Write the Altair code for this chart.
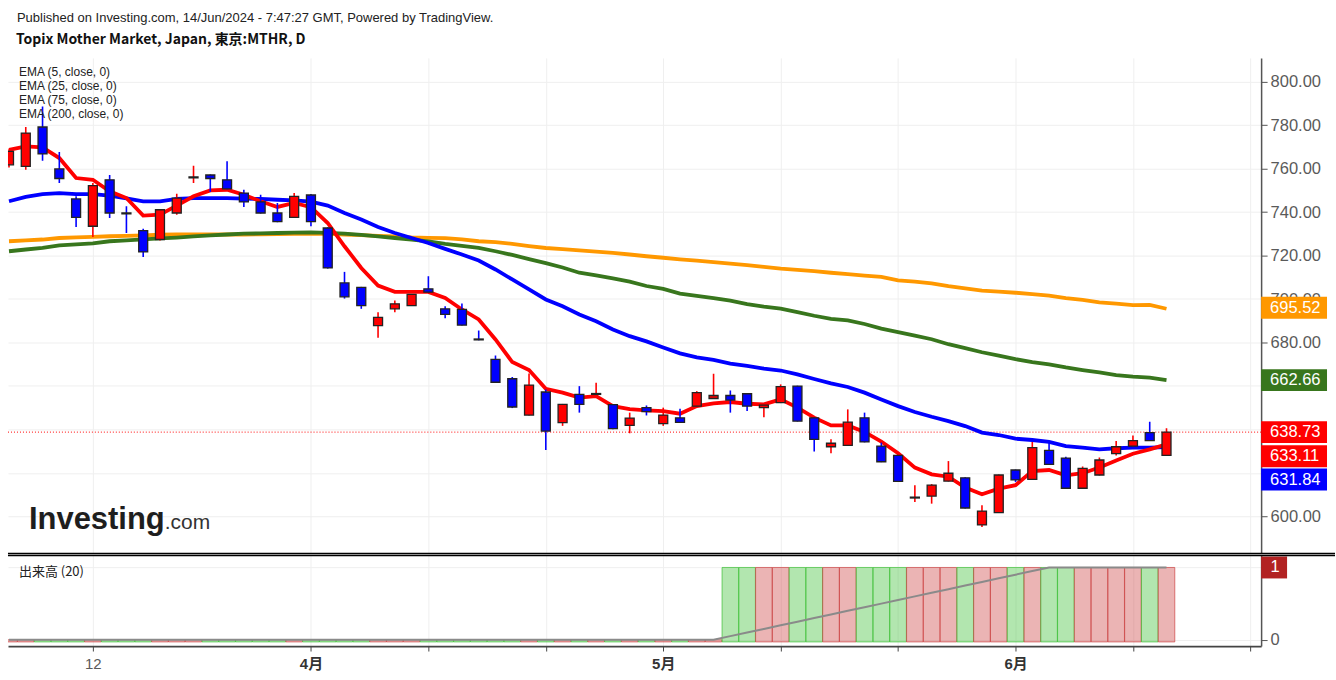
import altair as alt
import pandas as pd

# ---------------- data ----------------
opens = [761.8, 761.1, 779.2, 759.9, 746.1, 733.5, 754.9, 739.6, 731.5, 727.4,
         739.6, 755.8, 757.1, 754.9, 748.8, 744.7, 739.6, 737.6, 747.9, 732.7,
         707.4, 705.4, 687.8, 695.5, 697.0, 704.7, 695.5, 695.2, 681.6, 672.2,
         663.3, 646.6, 657.2, 643.1, 656.1, 656.1, 651.4, 641.8, 650.0, 642.6,
         645.3, 650.7, 654.2, 655.6, 656.4, 650.0, 652.3, 659.9, 645.3, 632.0,
         632.6, 645.3, 632.3, 628.0, 608.4, 609.3, 616.2, 617.7, 596.0, 601.7,
         621.3, 617.0, 630.3, 626.8, 612.9, 619.0, 628.8, 632.3, 638.5, 628.0]
highs = [769.0, 779.2, 788.6, 767.7, 747.3, 753.4, 757.1, 742.7, 732.4, 741.5,
         748.5, 761.4, 757.3, 763.4, 750.3, 748.0, 744.2, 748.8, 748.3, 733.0,
         712.5, 705.6, 693.9, 699.3, 702.3, 710.5, 696.7, 698.0, 685.5, 674.0,
         664.1, 665.7, 658.4, 651.7, 659.9, 661.5, 651.6, 647.7, 651.0, 650.0,
         649.5, 657.6, 665.6, 657.9, 656.6, 651.4, 660.7, 660.1, 645.5, 635.4,
         649.2, 647.7, 633.9, 628.2, 614.3, 614.8, 625.4, 617.9, 605.1, 619.2,
         621.5, 634.2, 633.9, 627.4, 622.9, 627.0, 634.7, 637.2, 643.5, 640.5]
lows = [760.5, 759.5, 763.7, 753.4, 733.2, 728.6, 737.3, 730.4, 719.4, 727.0,
        738.8, 753.4, 749.3, 750.5, 742.4, 739.4, 735.4, 737.4, 733.5, 714.0,
        700.2, 695.5, 682.2, 693.9, 696.8, 703.0, 691.1, 687.8, 681.0, 661.5,
        649.8, 646.4, 630.5, 641.6, 647.7, 655.9, 640.1, 638.2, 646.4, 641.6,
        643.0, 650.5, 654.0, 647.7, 648.5, 645.6, 652.1, 643.6, 629.8, 629.0,
        632.4, 634.0, 624.9, 615.9, 606.6, 605.8, 616.0, 603.6, 595.1, 601.5,
        615.8, 616.8, 623.7, 612.7, 612.7, 618.8, 628.0, 632.1, 634.6, 627.8]
closes = [768.0, 776.4, 766.8, 755.5, 737.6, 752.2, 739.6, 739.2, 721.7, 741.1,
          746.5, 756.2, 755.5, 750.7, 744.7, 739.6, 735.6, 747.3, 735.6, 714.3,
          701.0, 697.0, 691.6, 697.8, 702.1, 703.2, 692.9, 688.0, 681.2, 661.7,
          650.3, 660.4, 639.2, 651.5, 651.5, 656.5, 640.3, 645.2, 648.2, 646.6,
          643.2, 656.9, 655.6, 653.5, 650.7, 651.2, 659.7, 643.8, 635.4, 633.6,
          643.3, 634.2, 625.1, 616.1, 608.8, 614.3, 619.8, 603.8, 602.4, 619.0,
          616.7, 631.6, 623.9, 612.9, 622.0, 625.9, 632.0, 634.8, 634.8, 638.73]

ema5 = [768.7, 770.3, 769.8, 764.9, 755.7, 754.9, 749.6, 746.5, 738.4, 738.8,
        743.0, 747.3, 750.0, 750.3, 748.0, 745.0, 742.4, 744.2, 742.3, 735.0,
        724.3, 714.3, 706.2, 703.3, 703.3, 703.3, 700.5, 695.2, 690.6, 681.4,
        671.0, 667.3, 658.7, 656.9, 654.6, 655.3, 650.7, 649.3, 648.7, 648.4,
        647.2, 650.7, 652.0, 652.6, 651.8, 651.5, 653.8, 650.0, 645.4, 641.8,
        641.8, 638.8, 634.4, 629.0, 622.4, 619.3, 618.2, 613.2, 610.1, 612.7,
        614.3, 620.8, 621.3, 618.8, 619.8, 622.4, 625.7, 628.8, 630.8, 633.11]
ema25 = [745.0, 747.0, 748.3, 748.8, 748.3, 748.3, 747.6, 746.3, 745.0, 745.0,
         746.1, 746.5, 746.5, 746.5, 746.2, 746.1, 745.7, 745.4, 744.8, 743.0,
         739.6, 736.6, 733.2, 730.4, 728.1, 725.8, 723.1, 720.5, 717.7, 713.6,
         709.0, 704.4, 699.8, 696.7, 692.9, 689.8, 686.0, 682.9, 680.5, 677.7,
         675.0, 673.1, 672.0, 670.3, 669.2, 668.0, 667.1, 665.3, 663.2, 661.2,
         659.5, 656.9, 653.8, 650.7, 648.0, 645.8, 643.8, 641.5, 638.5, 637.4,
         635.7, 635.1, 634.2, 632.3, 631.6, 630.8, 631.3, 631.6, 631.6, 631.84]
ema75 = [722.0, 722.8, 723.6, 724.7, 725.2, 725.6, 726.6, 727.0, 727.5, 727.9,
         728.3, 728.8, 729.3, 729.7, 730.1, 730.2, 730.4, 730.6, 730.7, 730.5,
         730.1, 729.5, 728.8, 728.1, 727.4, 726.5, 725.4, 724.5, 723.5, 722.0,
         720.3, 718.4, 716.5, 714.5, 712.1, 710.9, 709.5, 708.0, 706.0, 704.7,
         702.5, 701.5, 700.4, 699.3, 697.7, 696.5, 695.6, 694.0, 692.3, 690.9,
         690.2, 688.5, 686.4, 684.8, 683.2, 681.5, 679.2, 677.4, 675.5, 673.9,
         672.3, 671.0, 669.9, 668.5, 667.3, 666.2, 665.0, 664.3, 663.8, 662.66]
ema200 = [726.6, 727.0, 727.4, 728.1, 728.4, 728.6, 728.9, 729.1, 729.3, 729.6,
          729.7, 729.7, 729.7, 729.7, 729.7, 729.8, 729.9, 730.0, 730.1, 730.0,
          729.7, 729.4, 729.1, 728.8, 728.4, 728.2, 728.0, 727.5, 726.6, 726.2,
          725.4, 724.4, 723.5, 723.0, 722.4, 721.8, 721.2, 720.5, 719.7, 719.0,
          718.3, 717.7, 717.0, 716.3, 715.6, 714.8, 714.0, 713.4, 712.8, 712.1,
          711.5, 710.8, 710.2, 708.6, 708.0, 707.2, 705.9, 704.9, 703.9, 703.4,
          702.9, 702.3, 701.6, 700.4, 699.6, 698.5, 697.9, 697.2, 697.3, 695.52]
volumes = [0, 0, 0, 0, 0, 0, 0, 0, 0, 0,
           0, 0, 0, 0, 0, 0, 0, 0, 0, 0,
           0, 0, 0, 0, 0, 0, 0, 0, 0, 0,
           0, 0, 0, 0, 0, 0, 0, 0, 0, 0,
           0, 0, 0, 1, 1, 1, 1, 1, 1, 1,
           1, 1, 1, 1, 1, 1, 1, 1, 1, 1,
           1, 1, 1, 1, 1, 1, 1, 1, 1, 1]

tick_idx = [5, 18, 25, 32, 39, 46, 53, 60, 67, 74]
tick_labels = ["12", "4月", "", "", "5月", "", "", "6月", "", ""]
price_ticks = [600, 620, 640, 660, 680, 700, 720, 740, 760, 780, 800]
hidden_price_ticks = [620, 640, 660]   # covered by the last-value boxes in the reference

ema_names = ["EMA (5, close, 0)", "EMA (25, close, 0)", "EMA (75, close, 0)", "EMA (200, close, 0)"]
last_values = [695.52, 662.66, 638.73, 633.11, 631.84]
last_colors = ["#ff9800", "#38761d", "#ff0000", "#ff0000", "#0000ff"]
last_price = 638.73

header1 = "Published on Investing.com, 14/Jun/2024 - 7:47:27 GMT, Powered by TradingView."
header2 = "Topix Mother Market, Japan, 東京:MTHR, D"

# ---------------- table ----------------
n = len(closes)
df = pd.DataFrame({
    "i": list(range(n)),
    "open": opens, "high": highs, "low": lows, "close": closes,
    "ema5": ema5, "ema25": ema25, "ema75": ema75, "ema200": ema200,
    "vol": volumes,
})
df["dir"] = ["up" if c > o else "down" for o, c in zip(opens, closes)]

# ---------------- layout constants ----------------
W = 1255
PH = 496
VH = 91
xscale = alt.Scale(domain=[-0.06, 74.64], nice=False, zero=False, padding=0)
GRID = "#efefef"
CJK = "'Noto Sans CJK JP', 'Noto Sans', sans-serif"
LAT = "'Liberation Sans', 'Noto Sans CJK JP', sans-serif"

price_x = alt.X("i:Q", scale=xscale, title=None,
                axis=alt.Axis(values=tick_idx, grid=True, gridColor=GRID, labels=False,
                              ticks=False, domain=False))
price_y_scale = alt.Scale(domain=[583.0, 811.0], nice=False, zero=False, padding=0)
hide_expr = " || ".join(f"datum.value == {v}" for v in hidden_price_ticks)
price_y_axis = alt.Axis(orient="right", values=price_ticks, format=".2f", grid=True,
                        labelExpr=f"({hide_expr}) ? '' : datum.label",
                        gridColor=GRID, labelColor="#5a5a5a", labelFontSize=16.5,
                        labelFont=LAT, tickSize=6, tickColor="#555", domainColor="#555",
                        domainWidth=1.5, labelPadding=3, title=None)

candle_color = alt.Color("dir:N", scale=alt.Scale(domain=["up", "down"], range=["#ff0000", "#0000ff"]),
                         legend=None)

base = alt.Chart(df)

last_rule = alt.Chart(pd.DataFrame({"v": [last_price]})).mark_rule(
    color="#ff0000", strokeWidth=1, strokeDash=[1, 2]).encode(
    y=alt.Y("v:Q", scale=price_y_scale, axis=price_y_axis))

ema_lines = []
for col, colr in [("ema200", "#ff9800"), ("ema75", "#38761d"), ("ema25", "#0000ff"), ("ema5", "#ff0000")]:
    ema_lines.append(base.mark_line(color=colr, strokeWidth=3.8, clip=True).encode(
        x=price_x, y=alt.Y(f"{col}:Q", scale=price_y_scale)))

wicks = base.mark_rule(strokeWidth=1.6, clip=True).encode(
    x=price_x, y=alt.Y("low:Q", scale=price_y_scale), y2="high:Q", color=candle_color)
bodies = base.mark_bar(size=9, stroke="#222222", strokeWidth=1.3, clip=True).encode(
    x=price_x, y=alt.Y("open:Q", scale=price_y_scale), y2="close:Q", color=candle_color)

texts = []
for k, name in enumerate(ema_names):
    texts.append(alt.Chart(pd.DataFrame({"t": [name]})).mark_text(
        align="left", baseline="middle", font=LAT, fontSize=12, color="#222222").encode(
        x=alt.value(11), y=alt.value(14 + 14 * k), text="t:N"))
texts.append(alt.Chart(pd.DataFrame({"t": [header1]})).mark_text(
    align="left", baseline="middle", font=LAT, fontSize=13, color="#222222").encode(
    x=alt.value(9), y=alt.value(-40), text="t:N"))
texts.append(alt.Chart(pd.DataFrame({"t": [header2]})).mark_text(
    align="left", baseline="middle", font=CJK, fontSize=14, fontWeight="bold", color="#111111").encode(
    x=alt.value(8), y=alt.value(-18), text="t:N"))
texts.append(alt.Chart(pd.DataFrame({"t": ["Investing"]})).mark_text(
    align="left", baseline="alphabetic", font=LAT, fontSize=31, fontWeight="bold", color="#1e1e1e").encode(
    x=alt.value(21), y=alt.value(472), text="t:N"))
texts.append(alt.Chart(pd.DataFrame({"t": [".com"]})).mark_text(
    align="left", baseline="alphabetic", font=LAT, fontSize=21, color="#333333").encode(
    x=alt.value(157), y=alt.value(472), text="t:N"))

box_path = "M-1,-0.3333L1,-0.3333L1,0.3333L-1,0.3333Z"
label_layers = []
for val, colr, dy in zip(last_values, last_colors, [-1, 0, 0, 12, 32.5]):
    ldf = pd.DataFrame({"v": [val], "t": [f"{val:.2f}"]})
    label_layers.append(alt.Chart(ldf).mark_point(
        shape=box_path, size=66 * 66, filled=True, color=colr, fill=colr, opacity=1,
        strokeWidth=0, yOffset=dy).encode(x=alt.value(1288), y=alt.Y("v:Q", scale=price_y_scale)))
    label_layers.append(alt.Chart(ldf).mark_text(
        align="left", baseline="middle", font=LAT, fontSize=16.5, color="white", yOffset=dy).encode(
        x=alt.value(1264), y=alt.Y("v:Q", scale=price_y_scale), text="t:N"))

sep1 = alt.Chart(pd.DataFrame({"a": [0]})).mark_rule(color="#000000", strokeWidth=1.6).encode(
    x=alt.value(0), x2=alt.value(1329), y=alt.value(496.3))

price = alt.layer(last_rule, *ema_lines, wicks, bodies, *texts, *label_layers, sep1).properties(
    width=W, height=PH)

# ---------------- volume panel ----------------
label_expr = " : ".join(f"datum.value == {t} ? '{l}'" for t, l in zip(tick_idx, tick_labels) if l) + " : ''"
vol_x = alt.X("i:Q", scale=xscale, title=None,
              axis=alt.Axis(values=tick_idx, labelExpr=label_expr, grid=True, gridColor=GRID,
                            tickSize=5, tickColor="#444", domainColor="#444", domainWidth=1.8,
                            labelFontSize=15, labelFont=LAT, labelPadding=5,
                            labelColor={"condition": {"test": "datum.value == 5", "value": "#5a5a5a"},
                                        "value": "#333333"},
                            labelFontWeight={"condition": {"test": "datum.value == 5", "value": "normal"},
                                             "value": "bold"}))
vol_y_scale = alt.Scale(domain=[-0.087, 1.17], nice=False, zero=False, padding=0)
vol_y_axis = alt.Axis(orient="right", values=[0, 1], format="d", grid=True, gridColor=GRID,
                      labelExpr="datum.value == 1 ? '' : datum.label",
                      labelColor="#5a5a5a", labelFontSize=16.5, labelFont=LAT, tickSize=6,
                      tickColor="#555", domainColor="#555", domainWidth=1.5, labelPadding=3,
                      title=None)
vol_scale = alt.Scale(domain=["up", "down"], range=["#cc4444", "#3ec037"])

vbars = base.mark_bar(size=16.6, fillOpacity=0.4, strokeOpacity=0.7, strokeWidth=1, clip=True).encode(
    x=vol_x, y=alt.Y("vol:Q", scale=vol_y_scale, axis=vol_y_axis), y2=alt.datum(-0.03),
    fill=alt.Fill("dir:N", scale=vol_scale, legend=None),
    stroke=alt.Stroke("dir:N", scale=vol_scale, legend=None))
vma = base.transform_window(ma="mean(vol)", frame=[-19, 0], sort=[alt.SortField("i")]).mark_line(
    color="#8a8a8a", strokeWidth=2, clip=True).encode(x=vol_x, y=alt.Y("ma:Q", scale=vol_y_scale))
vlabel = alt.Chart(pd.DataFrame({"t": ["出来高 (20)"]})).mark_text(
    align="left", baseline="middle", font=CJK, fontSize=13, color="#222222").encode(
    x=alt.value(11), y=alt.value(17), text="t:N")
vbox_df = pd.DataFrame({"v": [1], "t": ["1"]})
vbox = alt.Chart(vbox_df).mark_point(
    shape="M-1,-0.846L1,-0.846L1,0.846L-1,0.846Z", size=26 * 26, filled=True, color="#b22222",
    fill="#b22222", opacity=1, strokeWidth=0).encode(
    x=alt.value(1268), y=alt.Y("v:Q", scale=vol_y_scale))
vbox_t = alt.Chart(vbox_df).mark_text(
    align="center", baseline="middle", font=LAT, fontSize=16.5, color="white").encode(
    x=alt.value(1269), y=alt.Y("v:Q", scale=vol_y_scale), text="t:N")
sep2 = alt.Chart(pd.DataFrame({"a": [0]})).mark_rule(color="#000000", strokeWidth=1.4).encode(
    x=alt.value(0), x2=alt.value(1329), y=alt.value(0.3))

volume = alt.layer(vbars, vma, vlabel, vbox, vbox_t, sep2).properties(width=W, height=VH)

chart = alt.vconcat(price, volume, spacing=2, bounds="flush").resolve_scale(
    y="independent", color="independent", fill="independent", stroke="independent"
).properties(
    padding={"left": 7, "top": 11.5, "right": 0, "bottom": 5},
    background="white",
).configure_view(stroke=None)

chart.save("out.html", embed_options={"renderer": "svg", "actions": False})
